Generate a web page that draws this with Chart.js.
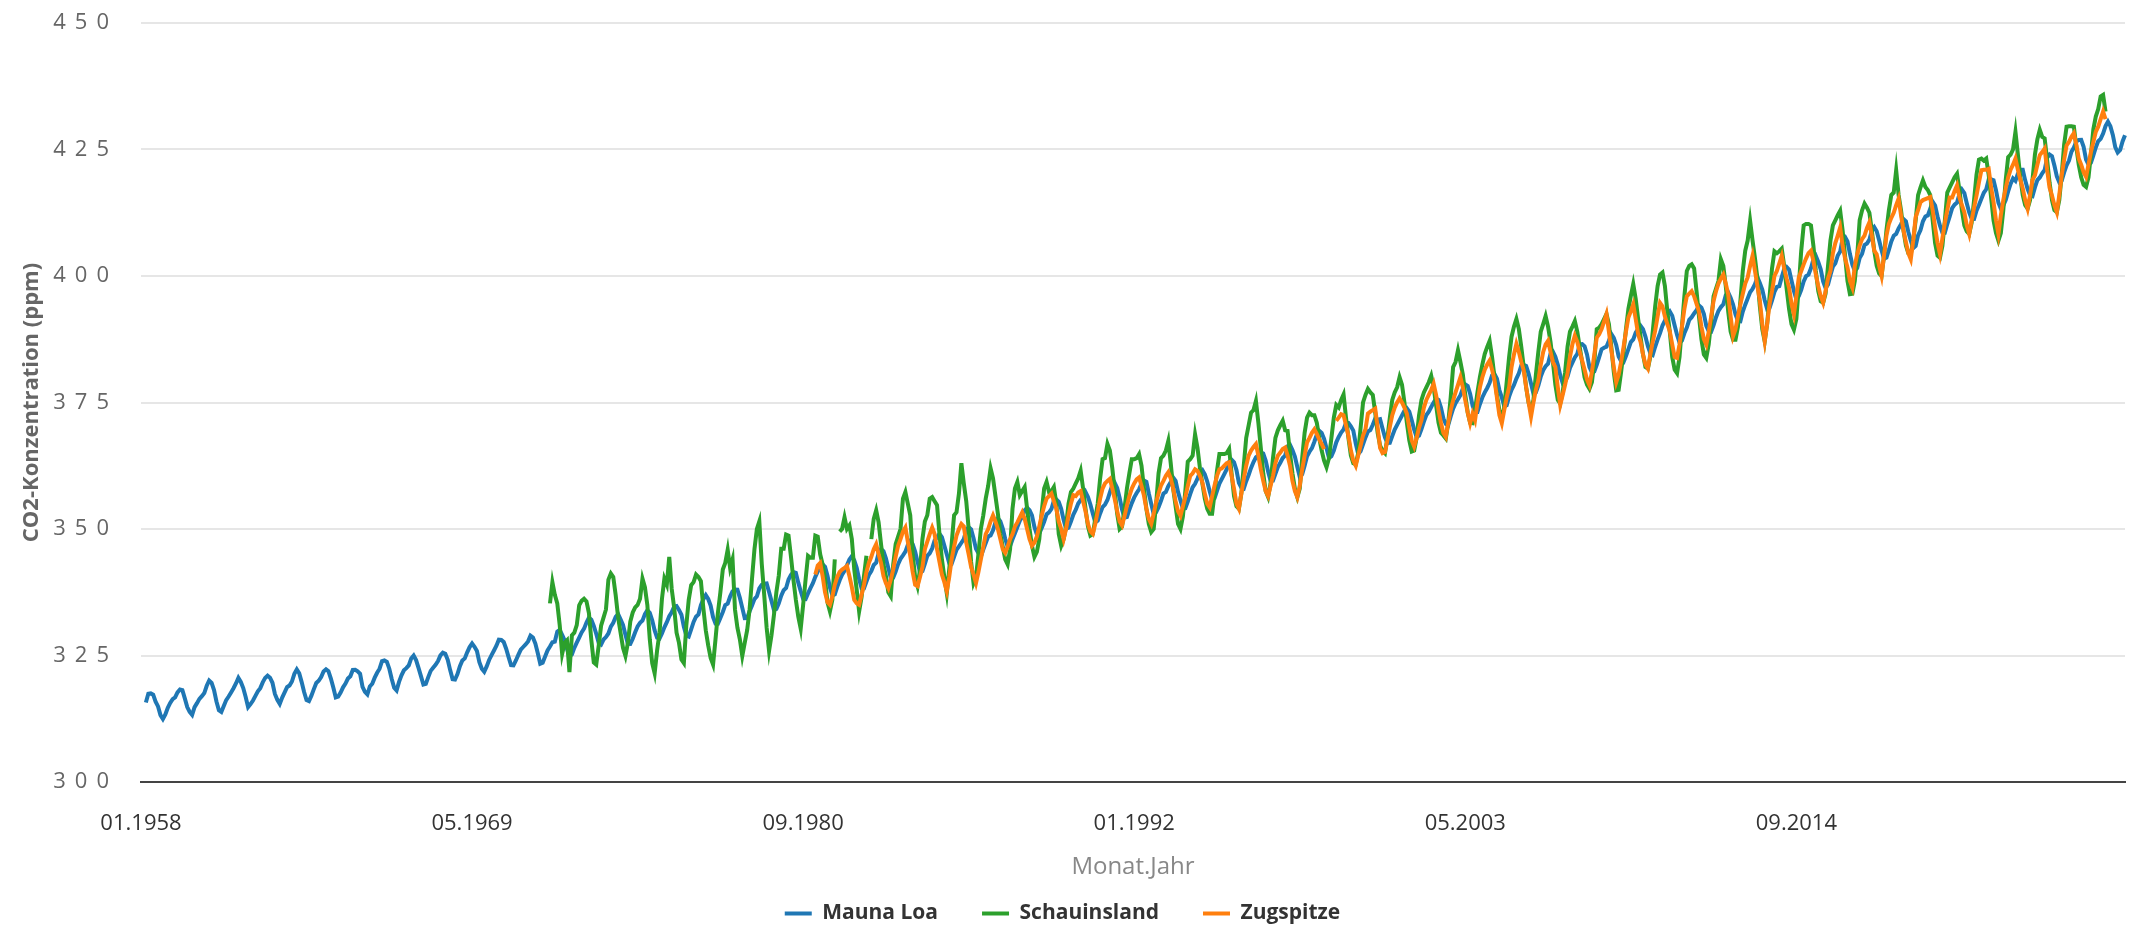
<!DOCTYPE html>
<html>
<head>
<meta charset="utf-8">
<script src="https://cdn.jsdelivr.net/npm/chart.js@4"></script>
<style>
  html, body { margin: 0; padding: 0; background: #fff; }
  canvas { display: block; }
</style>
</head>
<body>
<canvas id="co2Chart" width="2139" height="930"></canvas>
<script>
// categories: one per month, 01.1958 .. 12.2025
const firstYear = 1958;
const lastYear = 2025;
const labelStep = 136; // a label every 11 years 4 months
const yTicks = [300, 325, 350, 375, 400, 425, 450];

// Mauna Loa, monthly means (ppm), from 01.1958
const maunaLoa = [
  null, null, 315.71, 317.45, 317.51, 317.27, 315.87, 314.93, 313.21, 312.43, 313.33, 314.67, // 1958
  315.62, 316.38, 316.71, 317.72, 318.29, 318.15, 316.54, 314.80, 313.84, 313.26, 314.80, 315.58,
  316.43, 316.97, 317.58, 319.02, 320.03, 319.59, 318.18, 315.91, 314.16, 313.83, 315.00, 316.19, // 1960
  316.89, 317.70, 318.54, 319.48, 320.58, 319.77, 318.57, 316.79, 314.80, 315.38, 316.10, 317.01,
  317.94, 318.55, 319.68, 320.57, 321.02, 320.62, 319.61, 317.40, 316.25, 315.42, 316.69, 317.70,
  318.74, 319.07, 319.86, 321.38, 322.25, 321.48, 319.74, 317.77, 316.21, 315.99, 317.07, 318.35,
  319.57, 320.01, 320.74, 321.84, 322.26, 321.89, 320.44, 318.69, 316.70, 316.87, 317.68, 318.71,
  319.44, 320.44, 320.89, 322.13, 322.16, 321.87, 321.39, 318.80, 317.81, 317.30, 318.87, 319.42, // 1965
  320.62, 321.59, 322.39, 323.87, 324.01, 323.75, 322.39, 320.37, 318.64, 318.10, 319.79, 321.08,
  322.07, 322.50, 323.04, 324.42, 325.00, 324.09, 322.54, 320.92, 319.25, 319.39, 320.73, 321.96,
  322.57, 323.15, 323.89, 325.02, 325.57, 325.36, 324.14, 322.11, 320.33, 320.25, 321.32, 322.89,
  324.00, 324.42, 325.63, 326.66, 327.38, 326.71, 325.88, 323.66, 322.38, 321.78, 322.85, 324.12,
  325.06, 325.98, 326.93, 328.13, 328.08, 327.67, 326.34, 324.69, 323.10, 323.06, 324.01, 325.13, // 1970
  326.17, 326.68, 327.17, 327.79, 328.93, 328.57, 327.36, 325.43, 323.36, 323.56, 324.80, 326.01,
  326.77, 327.63, 327.75, 329.72, 330.07, 329.09, 328.04, 326.32, 324.84, 325.20, 326.50, 327.55,
  328.55, 329.56, 330.30, 331.50, 332.48, 332.07, 330.87, 329.31, 327.51, 327.18, 328.16, 328.64,
  329.35, 330.71, 331.48, 332.65, 333.18, 332.15, 331.07, 329.12, 327.32, 327.28, 328.30, 329.58,
  330.73, 331.46, 331.90, 333.17, 333.94, 333.45, 331.97, 329.95, 328.50, 328.34, 329.37, 330.58, // 1975
  331.59, 332.75, 333.52, 334.64, 334.77, 334.00, 333.06, 330.68, 328.95, 328.75, 330.15, 331.62,
  332.66, 333.13, 334.95, 336.13, 336.93, 336.17, 334.88, 332.56, 331.29, 331.27, 332.41, 333.60,
  334.95, 335.25, 336.66, 337.69, 338.03, 338.01, 336.41, 334.41, 332.37, 332.41, 333.75, 334.90,
  336.14, 336.69, 338.27, 338.96, 339.21, 339.26, 337.54, 335.75, 333.98, 334.19, 335.31, 336.81,
  337.90, 338.34, 340.01, 340.93, 341.48, 341.33, 339.40, 337.70, 336.19, 336.15, 337.27, 338.32, // 1980
  339.29, 340.55, 341.61, 342.53, 343.03, 342.54, 340.78, 338.44, 336.95, 337.08, 338.58, 339.88,
  340.96, 341.73, 342.81, 343.97, 344.63, 343.79, 342.32, 340.09, 338.28, 338.29, 339.60, 340.90,
  341.68, 342.90, 343.33, 345.25, 346.03, 345.63, 344.19, 342.27, 340.35, 340.38, 341.59, 343.05,
  344.10, 344.79, 345.52, 346.84, 347.63, 346.98, 345.53, 343.55, 341.40, 341.67, 343.10, 344.70,
  345.21, 346.16, 347.74, 348.33, 349.06, 348.38, 346.72, 345.02, 343.27, 343.13, 344.49, 345.88, // 1985
  346.56, 347.28, 348.01, 349.77, 350.38, 349.93, 348.16, 346.08, 345.22, 344.51, 345.93, 347.22,
  348.52, 348.73, 349.73, 351.31, 352.09, 351.53, 350.11, 348.08, 346.52, 346.59, 347.96, 349.16,
  350.39, 351.64, 352.40, 353.69, 354.21, 353.72, 352.69, 350.40, 348.92, 349.13, 350.20, 351.41,
  352.91, 353.27, 353.96, 355.64, 355.86, 355.37, 353.99, 351.81, 350.05, 350.25, 351.49, 352.85,
  353.80, 355.04, 355.73, 356.32, 357.32, 356.34, 354.84, 353.01, 351.31, 351.62, 353.07, 354.33, // 1990
  354.84, 355.73, 357.23, 358.66, 359.13, 358.13, 356.19, 353.85, 352.25, 352.35, 353.81, 355.12,
  356.25, 357.11, 357.86, 359.09, 359.59, 359.33, 357.01, 354.94, 352.96, 353.32, 354.32, 355.57,
  357.00, 357.31, 358.47, 359.27, 360.19, 359.52, 357.33, 355.64, 354.03, 354.12, 355.41, 356.91,
  358.24, 358.92, 359.99, 361.23, 361.65, 360.81, 359.38, 357.46, 355.73, 356.08, 357.53, 358.98,
  359.92, 360.86, 361.83, 363.30, 363.69, 363.19, 361.64, 359.12, 358.17, 357.99, 359.45, 360.68, // 1995
  362.07, 363.24, 364.17, 364.57, 365.13, 364.92, 363.55, 361.38, 359.54, 359.58, 360.89, 362.24,
  363.09, 364.03, 364.51, 366.35, 366.64, 365.59, 364.31, 362.25, 360.29, 360.82, 362.49, 364.38,
  365.27, 365.98, 367.24, 368.66, 369.42, 368.99, 367.82, 365.95, 364.02, 364.40, 365.52, 367.13,
  368.18, 369.07, 369.68, 370.99, 370.96, 370.30, 369.45, 366.90, 364.81, 365.37, 366.72, 368.10,
  369.29, 369.54, 370.60, 371.82, 371.58, 371.70, 369.86, 368.13, 367.00, 367.03, 368.37, 369.67, // 2000
  370.59, 371.51, 372.43, 373.37, 373.85, 373.21, 371.51, 369.61, 368.18, 368.45, 369.76, 371.24,
  372.53, 373.20, 374.12, 375.02, 375.76, 375.52, 374.01, 371.85, 370.75, 370.55, 372.25, 373.79,
  374.88, 375.64, 376.45, 377.73, 378.60, 378.28, 376.70, 374.38, 373.17, 373.14, 374.66, 375.99,
  377.00, 377.87, 378.88, 380.35, 380.62, 379.69, 377.47, 376.01, 374.25, 374.46, 376.16, 377.51,
  378.46, 379.73, 380.77, 382.29, 382.45, 382.21, 380.74, 378.74, 376.70, 377.00, 378.35, 380.11, // 2005
  381.38, 382.19, 382.67, 384.61, 385.03, 384.05, 382.46, 380.41, 378.85, 379.13, 380.15, 381.82,
  382.89, 383.90, 384.58, 386.50, 386.56, 386.10, 384.50, 381.99, 380.96, 381.12, 382.45, 383.95,
  385.52, 385.82, 386.03, 387.21, 388.54, 387.76, 386.36, 384.09, 383.18, 382.99, 384.19, 385.56,
  386.94, 387.48, 388.82, 389.55, 390.14, 389.48, 388.03, 386.11, 384.74, 384.43, 386.02, 387.42,
  388.71, 390.20, 391.17, 392.46, 393.00, 392.15, 390.20, 388.35, 386.85, 387.24, 388.67, 389.79, // 2010
  391.33, 391.86, 392.60, 393.25, 394.19, 393.74, 392.51, 390.13, 389.08, 389.00, 390.28, 391.86,
  393.12, 393.86, 394.40, 396.18, 396.74, 395.71, 394.36, 392.39, 391.11, 391.05, 392.98, 394.34,
  395.55, 396.80, 397.43, 398.41, 399.78, 398.60, 397.32, 395.20, 393.45, 393.70, 395.16, 396.84,
  397.85, 398.01, 399.77, 401.38, 401.78, 401.25, 399.10, 397.03, 395.38, 396.03, 397.28, 398.91,
  399.98, 400.28, 401.54, 403.28, 403.96, 402.80, 401.31, 398.93, 397.63, 398.29, 400.16, 401.85, // 2015
  402.52, 404.04, 404.83, 407.42, 407.70, 406.81, 404.39, 402.25, 401.03, 401.57, 403.53, 404.42,
  406.13, 406.42, 407.18, 409.00, 409.65, 408.84, 407.07, 405.07, 403.38, 403.64, 405.14, 406.81,
  407.96, 408.32, 409.41, 410.24, 411.24, 410.79, 408.71, 406.99, 405.51, 405.95, 408.02, 409.07,
  410.83, 411.75, 411.97, 413.33, 414.66, 413.92, 411.77, 409.95, 408.54, 408.53, 410.27, 411.76,
  413.40, 414.11, 414.51, 416.21, 417.07, 416.38, 414.38, 412.55, 411.29, 411.28, 412.89, 414.02, // 2020
  415.24, 416.45, 417.14, 419.05, 419.13, 418.94, 416.96, 414.47, 413.30, 413.93, 415.01, 416.71,
  418.19, 419.28, 418.81, 420.23, 420.99, 420.99, 418.90, 417.19, 415.95, 415.78, 417.51, 418.95,
  419.47, 420.31, 420.99, 423.36, 424.00, 423.68, 421.83, 419.68, 418.51, 418.82, 420.46, 421.86,
  422.80, 424.55, 425.38, 426.57, 426.90, 426.91, 425.55, 422.99, 422.03, 422.38, 423.85, 425.40,
  426.65, 427.09, 428.15, 429.64, 430.51, 429.61, 427.87, 425.48, 424.40, 424.90, 426.60, 427.80  // 2025
];

// Schauinsland, monthly means (ppm), from 01.1972
const schauinslandStartYear = 1972;
const schauinsland = [
  335.3, 339.5, 337.0, 335.3, 331.0, 325.3, 327.5, 328.0, 321.7, 329.0, 329.5, 331.0, // 1972
  334.9, 335.8, 336.2, 335.7, 333.4, 328.0, 323.6, 323.2, 326.9, 330.9, 332.5, 334.1,
  340.0, 341.2, 340.5, 336.9, 332.5, 329.5, 326.5, 324.9, 327.5, 331.7, 333.5, 334.5,
  335.0, 336.2, 340.2, 338.5, 335.0, 328.2, 323.5, 321.5, 326.0, 329.5, 336.2, 340.2, // 1975
  339.0, 344.5, 338.2, 334.5, 329.5, 327.5, 324.2, 323.5, 330.9, 336.0, 338.9, 339.5,
  341.0, 340.5, 339.7, 334.4, 330.0, 327.0, 324.5, 323.2, 328.2, 333.5, 337.5, 342.0,
  343.3, 345.9, 342.3, 344.0, 334.1, 330.5, 328.2, 324.9, 327.5, 330.0, 334.1, 340.2,
  346.0, 350.0, 351.5, 343.1, 337.0, 330.5, 325.9, 329.0, 333.0, 337.5, 340.8, 346.1,
  346.1, 348.9, 348.7, 344.5, 340.0, 336.0, 332.7, 330.3, 335.0, 340.0, 344.7, 344.3, // 1980
  344.3, 348.7, 348.5, 345.0, 343.0, 340.0, 335.5, 333.7, 336.0, 344.0, null, 349.5,
  350.0, 352.3, 350.0, 350.7, 348.0, 342.0, 338.0, 333.7, 336.5, 340.7, 344.7, null,
  348.0, 352.0, 353.7, 351.3, 347.0, 343.0, 340.7, 337.5, 336.7, 343.0, 347.0, 348.5,
  350.0, 356.0, 357.3, 355.0, 352.7, 345.0, 340.5, 338.7, 342.0, 348.0, 351.5, 352.7,
  356.0, 356.3, 355.5, 354.7, 349.0, 344.0, 340.5, 337.3, 342.0, 347.0, 352.7, 353.3, // 1985
  357.0, 363.0, 359.0, 355.5, 350.0, 343.5, 339.3, 340.5, 345.0, 350.0, 352.7, 356.0,
  358.5, 362.0, 360.0, 356.5, 353.0, 349.0, 346.5, 344.0, 343.0, 346.0, 354.0, 358.0,
  359.3, 356.7, 357.5, 358.3, 354.0, 350.0, 346.7, 344.5, 345.5, 348.0, 353.3, 358.0,
  359.3, 357.3, 357.5, 358.3, 355.0, 349.0, 346.7, 348.0, 350.5, 355.0, 357.3, 358.0,
  359.0, 360.0, 361.5, 358.0, 354.0, 350.5, 348.7, 349.0, 352.0, 355.0, 360.0, 363.8, // 1990
  364.0, 366.8, 365.5, 362.0, 357.5, 353.0, 350.0, 350.5, 354.0, 358.0, 361.0, 363.8,
  363.8, 364.0, 364.8, 362.5, 358.0, 354.0, 351.0, 349.4, 350.0, 355.0, 361.0, 364.0,
  364.5, 365.5, 367.4, 363.0, 358.0, 354.5, 351.0, 350.0, 352.5, 357.5, 363.3, 363.8,
  364.5, 368.7, 366.0, 362.0, 359.0, 356.0, 354.0, 353.0, 353.0, 357.0, 361.5, 364.8,
  364.8, 364.8, 365.0, 365.8, 361.0, 356.5, 354.5, 354.0, 357.0, 362.5, 368.0, 370.5, // 1995
  373.0, 373.5, 375.3, 371.0, 366.0, 361.0, 357.5, 356.3, 359.0, 364.0, 368.0, 369.5,
  370.5, 371.4, 369.5, 369.4, 365.0, 361.0, 358.0, 356.3, 358.0, 364.0, 369.0, 372.0,
  373.0, 372.5, 372.5, 371.0, 368.0, 365.5, 363.5, 362.2, 364.0, 368.0, 372.0, 374.5,
  374.0, 375.5, 376.6, 372.0, 368.0, 364.5, 363.0, 362.8, 365.0, 370.0, 375.0, 376.5,
  377.7, 377.0, 376.5, 373.0, 369.0, 366.5, 365.5, 365.0, 368.0, 372.0, 375.5, 377.0, // 2000
  378.0, 380.0, 378.5, 375.0, 371.0, 367.5, 365.3, 365.5, 368.0, 372.5, 375.5, 377.0,
  378.0, 379.0, 380.3, 378.0, 374.5, 371.0, 369.0, 368.5, 367.9, 371.0, 376.0, 382.0,
  383.0, 385.3, 383.0, 380.5, 376.5, 373.0, 371.0, 370.9, 373.5, 377.0, 380.0, 382.5,
  384.6, 386.0, 387.2, 384.0, 380.0, 376.5, 373.5, 372.2, 374.0, 379.0, 384.0, 388.0,
  390.0, 391.5, 389.5, 386.0, 382.0, 378.0, 375.0, 373.5, 375.5, 380.5, 385.0, 389.0, // 2005
  390.5, 392.1, 390.0, 387.0, 383.0, 378.5, 375.5, 374.8, 377.0, 381.0, 386.0, 389.0,
  390.0, 391.1, 389.0, 386.0, 383.0, 380.0, 378.5, 377.7, 379.0, 383.0, 389.5, 389.8,
  390.5, 391.5, 392.5, 390.5, 386.0, 381.0, 377.4, 377.5, 381.0, 385.0, 389.5, 393.5,
  396.0, 398.4, 395.5, 391.5, 388.0, 384.5, 382.0, 381.7, 384.0, 389.0, 394.0, 398.0,
  400.3, 400.7, 398.0, 393.0, 389.0, 384.0, 381.5, 380.8, 384.0, 390.0, 396.0, 401.0, // 2010
  402.0, 402.3, 401.5, 397.0, 392.0, 387.5, 384.5, 383.8, 386.5, 391.0, 396.0, 397.5,
  399.0, 403.3, 402.0, 398.0, 393.0, 389.0, 387.4, 387.4, 390.0, 395.0, 401.0, 405.0,
  407.0, 410.9, 407.0, 403.5, 399.5, 394.0, 389.5, 387.1, 390.5, 396.0, 401.5, 404.9,
  404.5, 404.9, 405.4, 402.0, 397.5, 393.5, 390.5, 389.4, 391.5, 398.0, 405.0, 410.0,
  410.3, 410.3, 410.0, 406.0, 401.0, 397.0, 395.0, 394.7, 396.5, 402.0, 407.0, 410.0, // 2015
  411.0, 412.0, 412.9, 409.0, 404.0, 399.0, 396.4, 396.5, 399.0, 404.0, 411.0, 413.0,
  414.3, 413.5, 412.5, 409.0, 405.0, 402.0, 400.5, 400.0, 404.0, 409.0, 413.0, 416.0,
  416.5, 420.9, 416.0, 413.0, 409.0, 406.0, 404.5, 404.3, 407.0, 411.0, 416.0, 417.5,
  418.9, 417.6, 417.0, 416.0, 411.0, 406.5, 404.0, 403.6, 406.0, 411.0, 416.5, 417.5,
  418.5, 419.5, 420.2, 417.0, 413.0, 410.0, 408.8, 408.3, 410.5, 415.0, 420.0, 423.0, // 2020
  423.2, 422.8, 423.2, 420.0, 415.5, 411.0, 408.5, 407.0, 408.5, 413.0, 419.0, 423.5,
  424.0, 425.0, 428.5, 424.0, 419.5, 416.0, 414.0, 413.3, 415.0, 419.0, 424.0, 427.0,
  428.9, 427.5, 427.2, 423.0, 418.5, 415.0, 413.0, 412.6, 415.0, 420.0, 426.0, 429.5,
  429.6, 429.6, 429.5, 425.5, 422.0, 419.5, 418.0, 417.6, 419.5, 424.0, 429.0, 431.5,
  433.0, 435.5, 435.8, 432.5 // 2025
];

// Zugspitze, monthly means (ppm), from 01.1981
const zugspitzeStartYear = 1981;
const zugspitze = [
  null, 341.0, 342.8, 343.3, 340.7, 337.5, 335.5, 335.0, 336.7, 339.0, 340.5, 341.5, // 1981
  342.0, 342.3, 342.7, 340.7, 338.5, 336.0, 335.3, 335.0, 337.0, 339.0, 341.5, 343.3,
  344.5, 346.0, 347.0, 345.0, 343.3, 340.7, 339.3, 338.3, 340.0, 342.0, 344.5, 346.7,
  348.0, 349.5, 350.3, 347.5, 344.7, 341.5, 339.0, 338.7, 340.5, 342.5, 346.0, 347.5,
  349.0, 350.3, 349.0, 346.0, 343.5, 341.0, 339.5, 337.7, 340.5, 344.0, 346.5, 348.7, // 1985
  350.0, 351.0, 350.5, 347.3, 345.0, 342.5, 341.0, 339.3, 341.5, 344.0, 346.5, 349.0,
  350.0, 351.5, 352.7, 351.5, 350.0, 348.0, 346.0, 345.3, 346.5, 348.0, 349.0, 350.5,
  351.3, 352.3, 353.3, 352.0, 350.0, 348.0, 346.7, 347.3, 348.5, 350.5, 352.7, 354.5,
  356.0, 356.5, 357.0, 355.5, 354.0, 351.5, 350.0, 348.0, 350.0, 352.7, 355.0, 356.7,
  356.5, 357.2, 357.5, 355.5, 353.5, 351.0, 349.5, 349.0, 351.0, 353.5, 356.0, 358.0, // 1990
  359.0, 359.5, 359.9, 358.0, 355.9, 353.5, 351.5, 350.7, 352.5, 354.6, 356.5, 358.0,
  359.0, 359.8, 360.2, 358.5, 356.6, 354.0, 352.0, 351.0, 353.0, 355.3, 357.0, 358.6,
  359.5, 360.5, 361.2, 360.0, 358.0, 355.5, 353.5, 352.6, 354.5, 356.3, 358.5, 360.5,
  361.0, 361.8, 361.5, 360.5, 359.2, 357.0, 355.0, 354.3, 356.5, 358.6, 360.5, 361.8,
  362.0, 362.5, 363.0, 363.2, 360.5, 358.0, 355.0, 354.0, 357.0, 359.9, 362.5, 364.5, // 1995
  365.5, 366.2, 366.8, 364.5, 361.8, 359.5, 357.5, 356.5, 358.5, 360.5, 363.0, 364.5,
  365.1, 365.8, 366.1, 364.5, 362.5, 359.5, 357.5, 356.3, 358.5, 361.8, 364.5, 367.1,
  368.0, 369.0, 369.7, 368.8, 367.7, 366.8, 365.8, null, null, null, null, 371.4,
  372.0, 372.7, 372.5, 370.5, 368.4, 365.5, 363.5, 362.5, 364.5, 366.5, 368.5, 369.7,
  372.8, 373.2, 373.5, 373.8, 370.0, 366.0, 365.0, 365.2, 367.5, 370.2, 372.5, 374.0, // 2000
  375.0, 375.8, 375.0, 374.0, 372.8, 370.0, 367.5, 366.3, 368.0, 370.0, 371.5, 374.0,
  375.5, 376.5, 377.5, 378.7, 376.5, 373.5, 371.0, 369.0, 368.2, 371.0, 373.5, 375.4,
  377.0, 378.5, 380.0, 378.0, 375.4, 373.0, 370.9, 372.8, 371.5, 375.0, 378.0, 380.0,
  381.5, 382.5, 383.3, 381.5, 379.4, 376.0, 372.5, 370.9, 373.5, 376.0, 378.0, 382.0,
  384.5, 386.6, 385.0, 383.0, 381.4, 378.0, 375.0, 372.2, 375.0, 377.5, 379.4, 382.5, // 2005
  385.0, 386.5, 387.2, 385.0, 383.0, 382.0, 378.0, 374.5, 376.5, 378.5, 380.8, 384.0,
  386.5, 388.2, 387.0, 385.0, 383.3, 381.5, 379.5, 378.4, 381.0, 384.5, 387.8, 388.5,
  389.5, 391.0, 392.5, 389.0, 385.3, 382.0, 379.0, 380.5, 383.0, 385.9, 389.0, 391.8,
  393.0, 394.4, 391.5, 388.5, 387.0, 384.5, 382.5, 381.7, 384.5, 387.0, 389.2, 392.0,
  394.7, 394.0, 392.0, 390.5, 389.1, 386.5, 384.0, 383.8, 386.5, 390.0, 393.5, 396.0, // 2010
  396.5, 397.0, 396.0, 394.5, 393.0, 390.0, 387.5, 386.4, 389.0, 392.0, 395.1, 397.0,
  398.5, 399.5, 400.3, 398.5, 396.4, 392.0, 388.1, 389.5, 392.0, 394.4, 396.5, 398.5,
  399.7, 402.0, 404.0, 401.0, 398.0, 395.1, 390.5, 387.1, 390.5, 394.5, 397.0, 400.0,
  401.0, 402.5, 404.0, 401.5, 399.5, 397.7, 394.5, 392.4, 396.0, 399.7, 401.0, 402.3,
  403.5, 404.5, 405.0, 403.0, 400.3, 398.0, 396.0, 394.7, 397.0, 399.5, 401.0, 404.5, // 2015
  406.5, 408.0, 409.6, 406.0, 403.5, 401.7, 399.0, 397.7, 402.0, 404.3, 406.0, 407.3,
  408.0, 409.5, 410.6, 408.0, 405.0, 404.3, 402.0, 400.0, 404.0, 408.0, 410.3, 411.5,
  412.5, 414.0, 415.3, 412.0, 409.0, 406.7, 404.5, 403.3, 407.0, 411.6, 413.0, 414.6,
  415.0, 415.2, 415.4, 415.6, 413.0, 409.6, 406.5, 404.3, 407.5, 410.5, 413.0, 415.5,
  415.5, 416.8, 417.9, 415.5, 414.0, 412.6, 410.0, 408.3, 411.0, 413.5, 415.9, 418.5, // 2020
  420.9, 421.0, 421.0, 421.2, 417.5, 414.6, 411.0, 408.3, 412.0, 415.0, 417.3, 419.5,
  421.0, 422.0, 423.2, 421.0, 419.0, 417.3, 415.0, 413.3, 416.0, 419.0, 419.9, 422.0,
  423.9, 424.5, 425.2, 421.0, 417.5, 415.9, 414.0, 412.6, 416.0, 419.9, 423.0, 425.8,
  426.5, 427.5, 428.2, 426.0, 423.2, 422.0, 420.5, 419.6, 422.0, 424.5, 426.5, 428.5,
  429.5, 431.0, 432.5, 431.0 // 2025
];

// build the month labels and align each series to them
const monthLabels = [];
for (let year = firstYear; year <= lastYear; year++) {
  for (let m = 1; m <= 12; m++) {
    monthLabels.push((m < 10 ? "0" + m : "" + m) + "." + year);
  }
}

function alignFrom(startYear, values) {
  const lead = new Array((startYear - firstYear) * 12).fill(null);
  return lead.concat(values);
}

// wider spacing for the y tick labels, like the original
const spacedYLabels = {
  id: "spacedYLabels",
  afterUpdate(chart) {
    const yScale = chart.scales.y;
    if (yScale.__spaced) return;
    const drawLabels = yScale.drawLabels;
    yScale.drawLabels = function (area) {
      const ctx = this.ctx;
      ctx.save();
      ctx.letterSpacing = "9px";
      drawLabels.call(this, area);
      ctx.restore();
    };
    yScale.__spaced = true;
  },
};

const font = "Open Sans";
const hidden = "rgba(0,0,0,0)";

new Chart(document.getElementById("co2Chart"), {
  type: "line",
  data: {
    labels: monthLabels,
    datasets: [
      {
        label: "Mauna Loa",
        data: maunaLoa,
        borderColor: "#1f77b4",
        backgroundColor: "#1f77b4",
        borderWidth: 4,
        order: 2,
      },
      {
        label: "Schauinsland",
        data: alignFrom(schauinslandStartYear, schauinsland),
        borderColor: "#2ca02c",
        backgroundColor: "#2ca02c",
        borderWidth: 4,
        order: 1,
      },
      {
        label: "Zugspitze",
        data: alignFrom(zugspitzeStartYear, zugspitze),
        borderColor: "#ff7f0e",
        backgroundColor: "#ff7f0e",
        borderWidth: 4,
        order: 0,
      },
    ],
  },
  options: {
    responsive: false,
    animation: false,
    devicePixelRatio: 1,
    elements: {
      point: { radius: 0, hoverRadius: 0 },
      line: { tension: 0, fill: false },
    },
    layout: { padding: { top: 23, right: 14, bottom: -4, left: 0 } },
    plugins: {
      legend: {
        position: "bottom",
        labels: {
          usePointStyle: true,
          pointStyle: "line",
          pointStyleWidth: 27,
          padding: 44,
          color: "#333",
          font: { family: font, size: 21, weight: "bold" },
          sort: (a, b) => a.datasetIndex - b.datasetIndex,
        },
      },
      tooltip: { enabled: false },
    },
    scales: {
      x: {
        // invisible tick marks keep the labels off the axis without padding the chart area
        grid: { display: false, drawTicks: true, tickLength: 29, tickColor: hidden },
        border: { display: true, color: "#444", width: 2 },
        ticks: {
          autoSkip: false,
          maxRotation: 0,
          padding: 0,
          color: "#333",
          font: { family: font, size: 22 },
          callback: function (value, index) {
            return index % labelStep === 0 ? this.getLabelForValue(value) : "";
          },
        },
        title: {
          display: true,
          text: "Monat.Jahr",
          color: "#888",
          font: { family: font, size: 24 },
          padding: { top: 0, bottom: -23 },
        },
        afterFit: (scale) => {
          scale.height = 77;
        },
      },
      y: {
        min: yTicks[0],
        max: yTicks[yTicks.length - 1],
        grid: { color: "#e6e6e6", lineWidth: 2, drawTicks: true, tickLength: 23, tickColor: hidden },
        border: { display: false },
        ticks: {
          stepSize: 25,
          padding: 0,
          color: "#666",
          font: { family: font, size: 22 },
        },
        title: {
          display: true,
          text: "CO2-Konzentration (ppm)",
          color: "#666",
          font: { family: font, size: 22, weight: "bold" },
          padding: { top: 19, bottom: 0 },
        },
        afterFit: (scale) => {
          scale.width = 141;
        },
      },
    },
  },
  plugins: [spacedYLabels],
});
</script>
</body>
</html>
